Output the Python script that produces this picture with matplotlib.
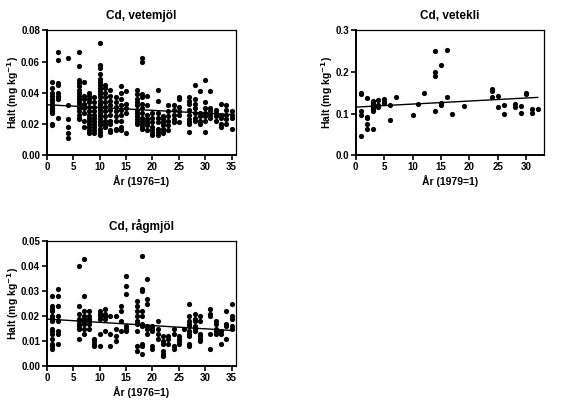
import numpy as np
import matplotlib
matplotlib.use("Agg")
import matplotlib.pyplot as plt

plt.rcParams['font.family'] = ['Liberation Sans', 'DejaVu Sans']
plt.rcParams['font.weight'] = 'bold'

# Cd, vetemjol (year -> values)
vete_mjol = {
    1: [0.047, 0.043, 0.040, 0.038, 0.036, 0.035, 0.033, 0.032, 0.031, 0.030, 0.029, 0.028, 0.027, 0.020, 0.019],
    2: [0.066, 0.061, 0.046, 0.045, 0.040, 0.038, 0.037, 0.036, 0.024],
    4: [0.062, 0.032, 0.023, 0.018, 0.014, 0.011],
    6: [0.066, 0.057, 0.048, 0.046, 0.044, 0.042, 0.040, 0.038, 0.036, 0.034, 0.032, 0.030, 0.028, 0.026, 0.024, 0.023],
    7: [0.047, 0.038, 0.036, 0.033, 0.030, 0.027, 0.022, 0.018],
    8: [0.040, 0.038, 0.036, 0.034, 0.031, 0.028, 0.026, 0.024, 0.022, 0.020, 0.018, 0.016, 0.014],
    9: [0.037, 0.034, 0.031, 0.028, 0.026, 0.024, 0.022, 0.020, 0.018, 0.016, 0.014],
    10: [0.072, 0.058, 0.056, 0.052, 0.049, 0.047, 0.045, 0.043, 0.041, 0.039, 0.037, 0.035, 0.033, 0.031,
         0.029, 0.027, 0.025, 0.023, 0.021, 0.019, 0.017, 0.015, 0.013],
    11: [0.045, 0.043, 0.040, 0.037, 0.034, 0.031, 0.028, 0.025, 0.022, 0.020, 0.018],
    12: [0.042, 0.038, 0.035, 0.032, 0.029, 0.026, 0.022, 0.020, 0.016, 0.015],
    13: [0.037, 0.034, 0.031, 0.028, 0.025, 0.022, 0.017, 0.016],
    14: [0.044, 0.040, 0.036, 0.032, 0.029, 0.026, 0.022, 0.018, 0.016],
    15: [0.041, 0.033, 0.030, 0.027, 0.014],
    17: [0.042, 0.039, 0.036, 0.034, 0.032, 0.029, 0.027, 0.025, 0.023, 0.021, 0.020],
    18: [0.062, 0.060, 0.039, 0.037, 0.033, 0.030, 0.027, 0.024, 0.022, 0.020, 0.018, 0.017],
    19: [0.038, 0.032, 0.026, 0.023, 0.021, 0.019, 0.016],
    20: [0.027, 0.024, 0.021, 0.018, 0.016, 0.014, 0.013],
    21: [0.042, 0.035, 0.027, 0.024, 0.021, 0.017, 0.015, 0.013],
    22: [0.025, 0.023, 0.021, 0.019, 0.017, 0.015, 0.014],
    23: [0.032, 0.028, 0.025, 0.022, 0.019, 0.016],
    24: [0.032, 0.029, 0.026, 0.023, 0.021],
    25: [0.037, 0.036, 0.031, 0.028, 0.026, 0.021],
    27: [0.037, 0.035, 0.033, 0.029, 0.026, 0.023, 0.021, 0.020, 0.015],
    28: [0.045, 0.036, 0.033, 0.030, 0.027, 0.024, 0.022],
    29: [0.041, 0.027, 0.025, 0.022, 0.020],
    30: [0.048, 0.034, 0.030, 0.027, 0.025, 0.022, 0.015],
    31: [0.041, 0.030, 0.028, 0.026, 0.024],
    32: [0.029, 0.027, 0.025, 0.022],
    33: [0.033, 0.026, 0.024, 0.020, 0.018],
    34: [0.032, 0.029, 0.026, 0.023, 0.020],
    35: [0.028, 0.026, 0.024, 0.017],
}

# Cd, vetekli
vete_kli = {
    1: [0.150, 0.147, 0.107, 0.097, 0.045],
    2: [0.137, 0.091, 0.089, 0.075, 0.063],
    3: [0.130, 0.125, 0.120, 0.115, 0.110, 0.105, 0.062],
    4: [0.132, 0.120, 0.116],
    5: [0.134, 0.128, 0.126],
    6: [0.120, 0.085],
    7: [0.140],
    10: [0.096],
    11: [0.122],
    12: [0.150],
    14: [0.250, 0.200, 0.190, 0.105],
    15: [0.217, 0.125, 0.120],
    16: [0.253, 0.140],
    17: [0.100],
    19: [0.119],
    24: [0.160, 0.157, 0.153, 0.139],
    25: [0.142, 0.115],
    26: [0.120, 0.099],
    28: [0.124, 0.116],
    29: [0.118, 0.101],
    30: [0.150, 0.147],
    31: [0.112, 0.101],
    32: [0.111],
}

# Cd, ragmjol
rag_mjol = {
    1: [0.028, 0.024, 0.023, 0.022, 0.020, 0.019, 0.018, 0.015, 0.014, 0.013, 0.011, 0.009, 0.008, 0.007],
    2: [0.031, 0.028, 0.024, 0.020, 0.018, 0.014, 0.013, 0.009],
    6: [0.040, 0.024, 0.021, 0.019, 0.018, 0.017, 0.016, 0.015, 0.011],
    7: [0.043, 0.028, 0.022, 0.020, 0.019, 0.018, 0.017, 0.015, 0.013],
    8: [0.022, 0.020, 0.019, 0.018, 0.017, 0.015],
    9: [0.011, 0.010, 0.009, 0.008],
    10: [0.022, 0.021, 0.020, 0.019, 0.013, 0.008],
    11: [0.023, 0.021, 0.020, 0.019, 0.014],
    12: [0.020, 0.013, 0.008],
    13: [0.020, 0.015, 0.012, 0.010],
    14: [0.024, 0.022, 0.018, 0.014],
    15: [0.036, 0.032, 0.029, 0.016, 0.015, 0.014],
    17: [0.026, 0.024, 0.022, 0.020, 0.018, 0.017, 0.014, 0.008, 0.006],
    18: [0.044, 0.031, 0.030, 0.022, 0.020, 0.017, 0.016, 0.009, 0.008, 0.005],
    19: [0.035, 0.027, 0.025, 0.016, 0.015, 0.013],
    20: [0.016, 0.015, 0.014, 0.008, 0.007],
    21: [0.018, 0.015, 0.013, 0.011],
    22: [0.012, 0.010, 0.009, 0.006, 0.005, 0.004],
    23: [0.012, 0.011, 0.009],
    24: [0.015, 0.013, 0.008, 0.007],
    25: [0.012, 0.011, 0.010, 0.009],
    26: [0.015],
    27: [0.025, 0.020, 0.018, 0.017, 0.016, 0.014, 0.013, 0.012, 0.009, 0.008],
    28: [0.021, 0.019, 0.018, 0.016, 0.015, 0.014],
    29: [0.020, 0.018, 0.013, 0.012, 0.011, 0.010],
    31: [0.023, 0.021, 0.020, 0.013, 0.007],
    32: [0.018, 0.017, 0.015, 0.014, 0.013],
    33: [0.014, 0.013, 0.009],
    34: [0.022, 0.017, 0.016, 0.011],
    35: [0.025, 0.020, 0.019, 0.016, 0.015],
}

# regression lines (intercept, slope)
fit_mjol = (0.0323, -0.00018)
fit_kli = (0.1154, 0.00073)
fit_rag = (0.0188, -0.00013)


def flatten(d):
    xs, ys = [], []
    for k, vals in d.items():
        xs += [k] * len(vals)
        ys += vals
    return np.array(xs), np.array(ys)


def panel(ax, data, fit, title, xlab, xmax, xticks, yticks, yfmt):
    x, y = flatten(data)
    ax.scatter(x, y, s=14, color='black', zorder=3, linewidths=0)
    xl = np.array([0, x.max()])
    ax.plot(xl, fit[0] + fit[1] * xl, color='black', lw=1.0, zorder=2)
    ax.set_xlim(0, xmax)
    ax.set_ylim(yticks[0], yticks[-1])
    ax.set_xticks(xticks)
    ax.set_yticks(yticks)
    ax.set_yticklabels([yfmt % v for v in yticks])
    ax.tick_params(labelsize=7, width=1.2, length=3.5, pad=1.5)
    for lbl in ax.get_xticklabels() + ax.get_yticklabels():
        lbl.set_fontweight('bold')
    for s in ['left', 'bottom']:
        ax.spines[s].set_linewidth(1.4)
    for s in ['top', 'right']:
        ax.spines[s].set_linewidth(0.9)
    ax.set_title(title, fontsize=8.5, fontweight='bold', pad=8)
    ax.set_xlabel(xlab, fontsize=7.5, fontweight='bold', labelpad=2)
    ax.set_ylabel('Halt (mg kg$^{\\mathbf{-1}}$)', fontsize=7.5, fontweight='bold', labelpad=0)


fig = plt.figure(figsize=(5.88, 4.04), dpi=100)
ax1 = fig.add_axes([0.080, 0.616, 0.321, 0.309])
ax2 = fig.add_axes([0.605, 0.616, 0.320, 0.309])
ax3 = fig.add_axes([0.080, 0.094, 0.321, 0.309])

panel(ax1, vete_mjol, fit_mjol, 'Cd, vetemjöl', 'År (1976=1)', 35.8,
      [0, 5, 10, 15, 20, 25, 30, 35], [0, 0.02, 0.04, 0.06, 0.08], '%.2f')
panel(ax2, vete_kli, fit_kli, 'Cd, vetekli', 'År (1979=1)', 33.1,
      [0, 5, 10, 15, 20, 25, 30], [0, 0.1, 0.2, 0.3], '%.1f')
panel(ax3, rag_mjol, fit_rag, 'Cd, rågmjöl', 'År (1976=1)', 35.8,
      [0, 5, 10, 15, 20, 25, 30, 35], [0, 0.01, 0.02, 0.03, 0.04, 0.05], '%.2f')

fig.savefig('out.png', dpi=100)
